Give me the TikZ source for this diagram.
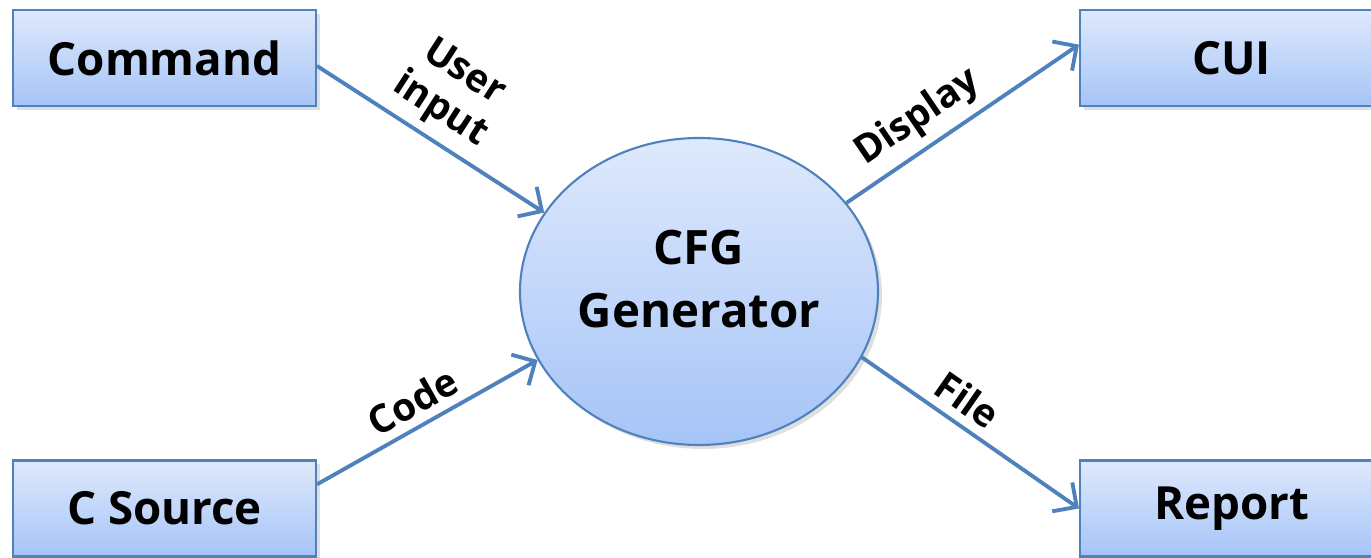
\documentclass[tikz,border=0pt]{standalone}
\usepackage{fontspec}
\setmainfont{Open Sans}
\usetikzlibrary{arrows.meta,shapes.geometric,shadows}
\definecolor{boxtop}{RGB}{222,233,252}
\definecolor{boxbot}{RGB}{166,196,247}
\definecolor{boxline}{RGB}{79,129,189}

\begin{document}
\begin{tikzpicture}[>={Straight Barb[length=5pt,width=10pt]},
block/.style={draw=boxline, line width=.6pt, top color=boxtop, bottom color=boxbot,
  minimum width=3.03cm, minimum height=.96cm, inner sep=0,
  drop shadow={opacity=.25, shadow xshift=.04cm, shadow yshift=-.04cm},
  font=\fontsize{13}{16}\bfseries\selectfont},
bubble/.style={ellipse, draw=boxline, line width=.6pt, top color=boxtop, bottom color=boxbot,
  minimum width=3.58cm, minimum height=3.07cm, inner sep=0, align=center, text depth=.25cm,
  drop shadow={opacity=.25, shadow xshift=.04cm, shadow yshift=-.04cm},
  font=\fontsize{13.5}{18}\bfseries\selectfont},
flow/.style={->, boxline, line width=1.1pt},
tag/.style={sloped, above, align=center, inner sep=2.5pt, text=black,
  font=\fontsize{11}{12.5}\bfseries\selectfont},
]

%%%%%%%%% SIZE OF THE PICTURE
\useasboundingbox (0,0) rectangle (13.71,5.58);

%%%%%%%%% BOXES %%%%%%%%%%%%%
\node[block](Cmd) at (1.645,5.00) {Command};
\node[block](CSrc) at (1.645,0.495) {C Source};
\node[block](CUI) at (12.315,5.00) {CUI};
\node[block](Rep) at (12.315,0.495) {Report};
\node[bubble](Gen) at (6.99,2.665) {CFG\\Generator};

%%%%%%%%% ARROWS %%%%%%%%%%%%
\draw[flow] (Cmd.-3) -- (Gen.153) node[tag, pos=.47]{User\\input};
\draw[flow] (CSrc.9) -- (Gen.203) node[tag, pos=.49]{Code};
\draw[flow] (Gen.31) -- (CUI.175) node[tag, pos=.38]{Display};
\draw[flow] (Gen.-22) -- (Rep.west) node[tag, pos=.42]{File};
\end{tikzpicture}
\end{document}
